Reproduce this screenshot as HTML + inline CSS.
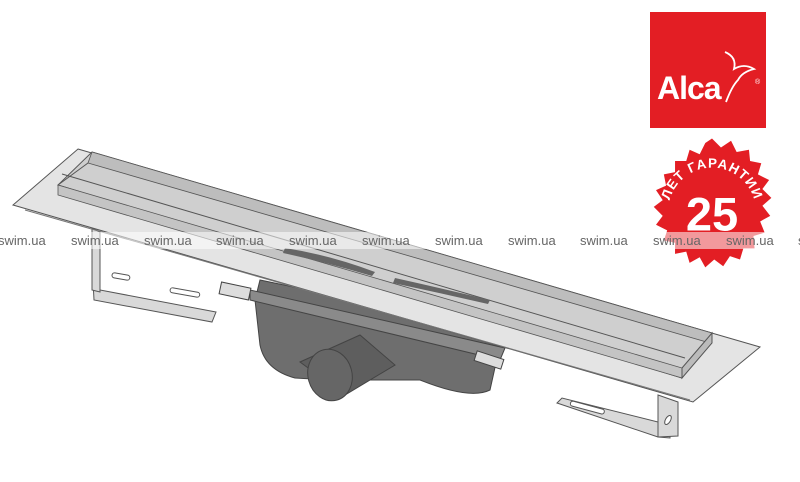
<!DOCTYPE html>
<html><head><meta charset="utf-8"><style>
html,body{margin:0;padding:0;background:#fff;width:800px;height:482px;overflow:hidden}
svg{display:block}
</style></head><body>
<svg width="800" height="482" viewBox="0 0 800 482" xmlns="http://www.w3.org/2000/svg" font-family="Liberation Sans, sans-serif">
<!-- left bracket -->
<g stroke="#555" stroke-width="1" fill="#d9d9d9">
<polygon points="92,262 100,262 100,290 216,312 212,322 94,300"/>
<polygon points="92,228 100,232 100,292 92,290"/>
<rect x="112" y="274" width="18" height="5" rx="2.5" transform="rotate(10 121 276)" fill="#fff"/>
<rect x="170" y="290" width="30" height="5" rx="2.5" transform="rotate(10 185 292)" fill="#fff"/>
</g>
<!-- right bracket -->
<g stroke="#555" stroke-width="1" fill="#d9d9d9">
<polygon points="557,403 562,398 670,425 670,438 658,437"/>
<polygon points="658,395 678,402 678,436 658,437"/>
<rect x="570" y="405" width="35" height="5" rx="2.5" transform="rotate(15 587 407)" fill="#fff"/>
<ellipse cx="668" cy="420" rx="2.5" ry="5" fill="#fff" transform="rotate(30 668 420)"/>
</g>
<!-- gray body -->
<g stroke="#444" stroke-width="1">
<path d="M255,300 L260,345 Q265,370 295,378 L330,380 L420,380 Q470,400 490,390 L500,345 L500,330 L260,280 Z" fill="#6e6e6e"/>
<path d="M250,290 L505,348 L500,360 L250,300 Z" fill="#8a8a8a"/>
<path d="M300,362 L360,335 L395,365 L345,395 Z" fill="#5e5e5e"/>
<ellipse cx="330" cy="375" rx="22" ry="26" fill="#666" transform="rotate(-15 330 375)"/>
<rect x="220" y="285" width="30" height="12" fill="#ddd" transform="rotate(12 235 291)"/>
<rect x="475" y="355" width="28" height="10" fill="#ddd" transform="rotate(18 489 360)"/>
</g>
<!-- flange -->
<polygon points="78,149 760,347 693,402 13,205" fill="#e4e4e4" stroke="#555" stroke-width="1"/>
<!-- channel -->
<polygon points="92,152 712,333 682,378 58,185" fill="#cfcfcf" stroke="#555" stroke-width="1"/>
<polygon points="92,152 712,333 710,343 88,163" fill="#bdbdbd" stroke="#555" stroke-width="0.8"/>
<polygon points="58,185 682,368 682,378 58,195" fill="#c4c4c4" stroke="#555" stroke-width="0.8"/>
<line x1="62" y1="174" x2="685" y2="358" stroke="#555"/>
<line x1="88" y1="163" x2="58" y2="185" stroke="#555"/>
<polygon points="682,368 712,333 712,343 682,378" fill="#bbb" stroke="#555"/>
<line x1="25" y1="210" x2="690" y2="400" stroke="#777"/>
<!-- slots -->
<path d="M285,248 Q330,255 375,272 L372,276 Q325,262 283,253 Z" fill="#666"/>
<path d="M395,278 Q440,288 490,300 L488,304 Q440,293 393,283 Z" fill="#666"/>
<!-- watermark band -->
<rect x="0" y="232" width="800" height="17" fill="#fff" opacity="0.55"/>
<!-- logo -->
<rect x="650" y="12" width="116" height="116" fill="#e31e24"/>
<text x="657" y="99" font-size="32" font-weight="bold" fill="#fff" letter-spacing="-1">Alca</text>
<path d="M725,52 q12,5 9,17 q10,-6 20,0 q-12,3 -16,11 q-6,6 -12,22" stroke="#fff" fill="none" stroke-width="1.8"/>
<text x="755" y="84" font-size="7" fill="#fff">®</text>
<!-- badge -->
<g transform="translate(712,208) scale(1.12)">
<polygon fill="#e31e24" points="
0,-62 8,-54 17,-60 22,-50 33,-52 34,-42 44,-40 41,-30 51,-25 45,-17 53,-9 45,-2 52,7 43,12 47,22 37,25 38,36 28,36 25,46 16,43 10,52 2,46 -6,53 -11,44 -20,49 -23,39 -33,41 -33,31 -43,29 -40,20 -50,15 -44,7 -52,-1 -44,-7 -50,-16 -41,-20 -43,-30 -33,-32 -33,-42 -23,-42 -20,-52 -11,-48 -6,-58"/>
<text x="0" y="20" font-size="42" font-weight="bold" fill="#fff" text-anchor="middle">25</text>
<path id="arc" d="M-36,18 A39,39 0 1 1 36,18" fill="none"/>
<text font-size="12" font-weight="bold" fill="#fff" letter-spacing="1"><textPath href="#arc" startOffset="50%" text-anchor="middle">ЛЕТ ГАРАНТИИ</textPath></text>
</g>
<rect x="640" y="232" width="160" height="17" fill="#fff" opacity="0.55"/>
<g font-size="13" fill="#666">
<text x="-2" y="245">swim.ua</text><text x="71" y="245">swim.ua</text><text x="144" y="245">swim.ua</text><text x="216" y="245">swim.ua</text><text x="289" y="245">swim.ua</text><text x="362" y="245">swim.ua</text><text x="435" y="245">swim.ua</text><text x="508" y="245">swim.ua</text><text x="580" y="245">swim.ua</text><text x="653" y="245">swim.ua</text><text x="726" y="245">swim.ua</text><text x="798" y="245">swim.ua</text>
</g>
</svg>
</body></html>
